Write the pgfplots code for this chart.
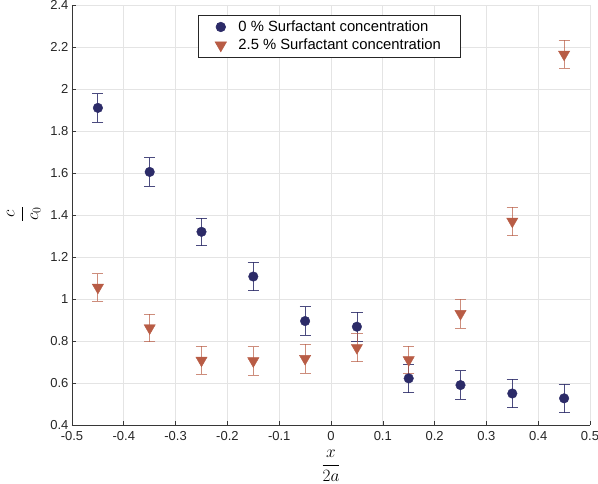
\documentclass[border=0pt]{standalone}
\usepackage{pgfplots}
\pgfplotsset{compat=1.18}
\usepackage{fontspec}
\setmainfont{Liberation Sans}
\definecolor{cblue}{RGB}{44,43,104}
\definecolor{cred}{RGB}{184,92,69}
\definecolor{gridc}{RGB}{228,228,228}
\definecolor{axc}{RGB}{55,55,55}
\begin{document}
\begin{tikzpicture}
\useasboundingbox (-72pt,-59pt) rectangle (526pt,425pt);
\begin{axis}[
  at={(0pt,0pt)}, anchor=south west,
  scale only axis, width=518pt, height=420pt,
  xmin=-0.5, xmax=0.5, ymin=0.4, ymax=2.4,
  xtick={-0.5,-0.4,...,0.51}, ytick={0.4,0.6,...,2.41},
  axis x line*=bottom, axis y line*=left,
  axis line style={color=axc, line width=0.8pt, -},
  tick style={color=axc, line width=0.6pt},
  tick align=inside, major tick length=4pt,
  grid=major, grid style={gridc, line width=0.8pt},
  tick label style={font=\fontsize{13}{15}\selectfont, color=black!85},
  xticklabel style={yshift=-2.5pt},
  /pgf/number format/assume math mode=true,
  /pgf/number format/fixed,
  xlabel={$\displaystyle\frac{x}{2a}$}, ylabel={$\displaystyle\frac{c}{c_0}$},
  xlabel style={font=\fontsize{18}{20}\selectfont, at={(axis description cs:0.5,-0.097)}, anchor=center},
  ylabel style={font=\fontsize{18}{20}\selectfont, at={(axis description cs:-0.093,0.502)}, anchor=center},
  legend style={at={(0.243,0.976)}, anchor=north west, draw=black!85, line width=0.6pt,
    font=\fontsize{14.8}{17}\selectfont, inner xsep=17pt, inner ysep=3.5pt, row sep=2pt,
    /tikz/every odd column/.append style={column sep=10pt}},
  legend cell align=left,
]
\addplot+[only marks, mark=*, mark size=4.8pt, color=cblue, mark options={fill=cblue, draw=cblue},
  error bars/.cd, y dir=both, y explicit,
  error bar style={line width=0.8pt, cblue, opacity=0.85},
  error mark options={rotate=90, mark size=5.6pt, line width=0.8pt, cblue, opacity=0.85}]
coordinates {
(-0.45,1.910) +- (0,0.068)
(-0.35,1.605) +- (0,0.068)
(-0.25,1.320) +- (0,0.066)
(-0.15,1.107) +- (0,0.068)
(-0.05,0.895) +- (0,0.068)
(0.05,0.868) +- (0,0.068)
(0.15,0.622) +- (0,0.068)
(0.25,0.590) +- (0,0.068)
(0.35,0.550) +- (0,0.068)
(0.45,0.527) +- (0,0.068)
};
\addlegendentry{0 \% Surfactant concentration}
\addplot+[only marks, mark=triangle*, mark size=6.5pt, color=cred, mark options={fill=cred, draw=cred, rotate=180},
  error bars/.cd, y dir=both, y explicit,
  error bar style={line width=0.8pt, cred, opacity=0.7},
  error mark options={rotate=90, mark size=5.6pt, line width=0.8pt, cred, opacity=0.7}]
coordinates {
(-0.45,1.055) +- (0,0.066)
(-0.35,0.862) +- (0,0.066)
(-0.25,0.708) +- (0,0.066)
(-0.15,0.705) +- (0,0.068)
(-0.05,0.716) +- (0,0.068)
(0.05,0.768) +- (0,0.066)
(0.15,0.710) +- (0,0.066)
(0.25,0.930) +- (0,0.068)
(0.35,1.370) +- (0,0.068)
(0.45,2.165) +- (0,0.066)
};
\addlegendentry{2.5 \% Surfactant concentration}
\end{axis}
\end{tikzpicture}
\end{document}
